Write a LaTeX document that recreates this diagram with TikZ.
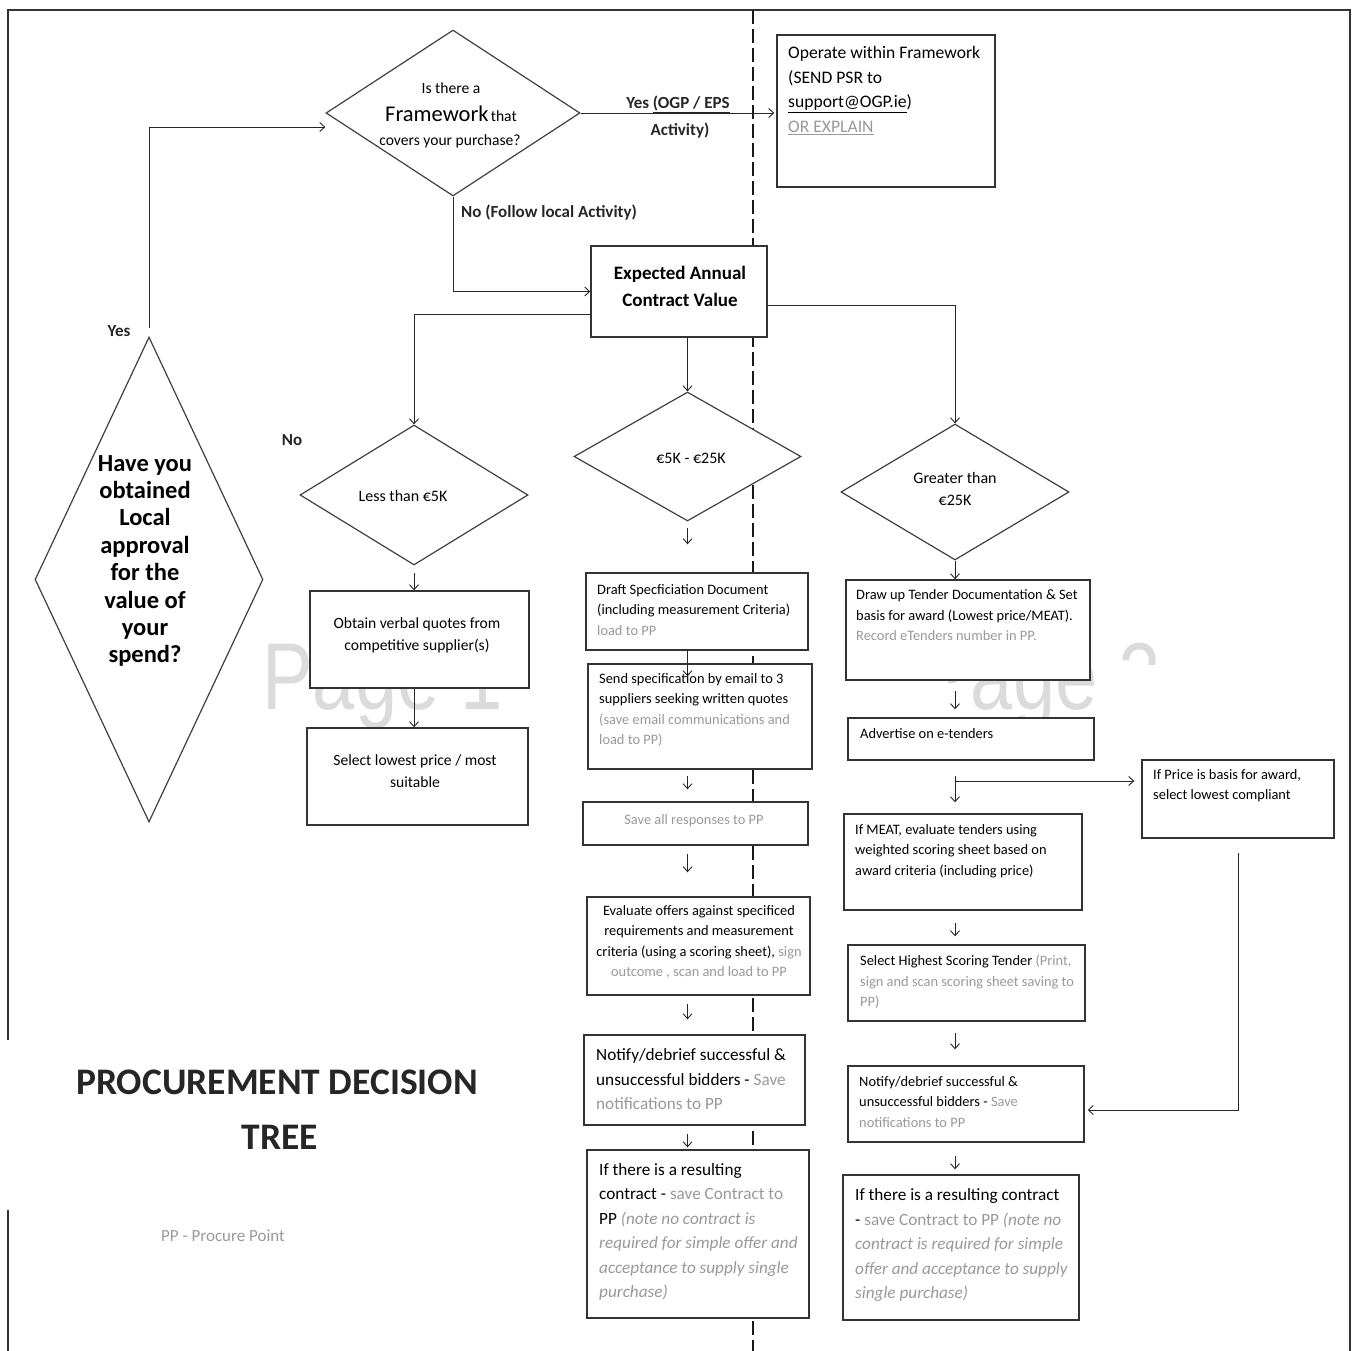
\documentclass[tikz,border=0pt]{standalone}
\usepackage{fontspec}
\setmainfont{Carlito}
\newfontfamily\wmfont{Liberation Sans}
\usetikzlibrary{shapes.geometric,arrows.meta}
\definecolor{fade}{gray}{0.6}
\definecolor{wmgray}{gray}{0.86}
\begin{document}
\begin{tikzpicture}[x=1pt,y=-1pt,
  box/.style={draw=black!80, line width=1.4pt, fill=white, inner sep=0pt},
  dia/.style={diamond, draw=black!75, line width=1.2pt, inner sep=0pt, fill=white},
  arr/.style={draw=black!85, line width=0.9pt, -{Straight Barb[length=5pt,width=9pt]}},
  frame/.style={draw=black!80, line width=1.3pt},
  sepline/.style={draw=black!90, line width=2pt, dash pattern=on 14pt off 5pt},
  tl/.style={inner sep=0pt, anchor=west, align=left},
  tc/.style={inner sep=0pt, align=center},
  fs13/.style={font=\fontsize{14.4}{20.5}\selectfont},
  fs14/.style={font=\fontsize{15.6}{22}\selectfont},
  fs15/.style={font=\fontsize{17.2}{24.5}\selectfont},
  fs16/.style={font=\fontsize{17.6}{24.5}\selectfont},
  lbl/.style={inner sep=0pt, align=center, font=\fontsize{17}{24}\selectfont\bfseries, text=black!85},
  wm/.style={inner sep=0pt, anchor=base west, text=wmgray, font=\wmfont\fontsize{95}{100}\selectfont}
]
\useasboundingbox (0,0) rectangle (1354,1351);

% watermarks
\node[wm] (wm1) at (262,709) {\scalebox{0.8}[1]{Page 1}};
\begin{scope}
  \clip (948,600) -- (1160,600) -- (1160,664) -- (1118,664) -- (1118,730) -- (948,730) -- cycle;
  \node[wm] (wm2) at (920,709) {\scalebox{0.8}[1]{Page 2}};
\end{scope}

% frame and separator
\draw[frame] (8,1040) -- (8,10) -- (1350,10) -- (1350,1351);
\draw[frame] (8,1210) -- (8,1351);
\draw[sepline] (753,10) -- (753,1351);

% diamonds
\node[dia, minimum width=254pt, minimum height=166pt] (d1) at (453,113) {};
\node[dia, minimum width=228pt, minimum height=140pt] (dl) at (414,495) {};
\node[dia, minimum width=227pt, minimum height=129pt] (d2) at (687.5,456.5) {};
\node[dia, minimum width=228pt, minimum height=136pt] (d3) at (955,492) {};
\node[dia, minimum width=228pt, minimum height=485pt] (dbig) at (149,579.5) {};

% boxes
\node[box, minimum width=218pt, minimum height=152pt] (op) at (886,111) {};
\node[box, minimum width=176pt, minimum height=91pt] (exp) at (679,291.5) {};
\node[box, minimum width=219pt, minimum height=97pt] (obtain) at (419.5,639.5) {};
\node[box, minimum width=221pt, minimum height=97pt] (select) at (417.5,776.5) {};
\node[box, minimum width=222pt, minimum height=77pt] (draft) at (697,611.5) {};
\node[box, minimum width=224pt, minimum height=105pt] (send) at (700,716.5) {};
\node[box, minimum width=225pt, minimum height=43pt] (save) at (695.5,823.5) {};
\node[box, minimum width=223pt, minimum height=98pt] (eval) at (698.5,946) {};
\node[box, minimum width=221pt, minimum height=90pt] (notify) at (694.5,1080) {};
\node[box, minimum width=222pt, minimum height=168pt] (ifa) at (698,1234) {};
\node[box, minimum width=244pt, minimum height=100pt] (draw) at (968,630) {};
\node[box, minimum width=246pt, minimum height=42pt] (adv) at (971,739) {};
\node[box, minimum width=192pt, minimum height=78pt] (price) at (1238,799) {};
\node[box, minimum width=238pt, minimum height=96pt] (meat) at (963,862) {};
\node[box, minimum width=237pt, minimum height=76pt] (selhi) at (966.5,983) {};
\node[box, minimum width=236pt, minimum height=76pt] (notify2) at (966,1104) {};
\node[box, minimum width=236pt, minimum height=145pt] (ifb) at (961,1247.5) {};

% connectors
\draw[arr, shorten >=2pt] (d1.east) -- (d1.east -| op.west);
\draw[arr] (d1.south) |- (exp.west);
\draw[arr] ([yshift=-22.5pt]exp.west) -| (dl.north);
\draw[arr] (exp.south -| d2.north) -- (d2.north);
\draw[arr] ([yshift=-13.5pt]exp.east) -| (d3.north);
\draw[arr, shorten <=8pt] (dbig.north) |- ([yshift=-14pt]d1.west);

\draw[arr, shorten <=7pt] (dl.south) -- (dl.south |- obtain.north);
\draw[arr] (obtain.south -| dl.south) -- (select.north -| dl.south);

\draw[arr, shorten <=6pt, shorten >=28pt] (d2.south) -- (d2.south |- draft.north);
\draw[arr, shorten >=-13pt] (draft.south -| d2.south) -- (send.north -| d2.south);
\draw[arr, shorten <=6pt, shorten >=12pt] (send.south -| d2.south) -- (save.north -| d2.south);
\draw[arr, shorten <=8pt, shorten >=24pt] (save.south -| d2.south) -- (eval.north -| d2.south);
\draw[arr, shorten <=8pt, shorten >=15pt] (eval.south -| d2.south) -- (notify.north -| d2.south);
\draw[arr, shorten <=8pt, shorten >=2pt] (notify.south -| d2.south) -- (ifa.north -| d2.south);

\coordinate (split) at (955,781);
\draw[arr] (d3.south) -- (d3.south |- draw.north);
\draw[arr, shorten <=10pt, shorten >=8pt] (draw.south -| split) -- (adv.north -| split);
\draw[arr, shorten <=15pt, shorten >=11pt] (adv.south -| split) -- (meat.north -| split);
\draw[arr, shorten >=7pt] (split) -- (split -| price.west);
\draw[arr, shorten <=12pt, shorten >=8pt] (meat.south -| split) -- (selhi.north -| split);
\draw[arr, shorten <=11pt, shorten >=16pt] (selhi.south -| split) -- (notify2.north -| split);
\draw[arr, shorten <=13pt, shorten >=5pt] (notify2.south -| split) -- (ifb.north -| split);
\draw[arr, shorten <=14pt, shorten >=3pt] (price.south) |- ([yshift=-6pt]notify2.east);

% connector labels
\node[lbl] (lyes1) at (678,104) {Yes \underline{(OGP / EPS}};
\node[lbl] (lyes2) at (680,131) {Activity)};
\node[lbl] (lno1) at (549,213) {No (Follow local Activity)};
\node[lbl] (lyes3) at (119,331) {Yes};
\node[lbl] (lno2) at (292,440) {No};

% diamond texts
\node[tc, font=\fontsize{15.6}{18}\selectfont] (d1a) at (451,88) {Is there a};
\node[tc] (d1b) at (451,114) {{\fontsize{22.5}{26}\selectfont Framework} {\fontsize{15.6}{18}\selectfont that}};
\node[tc, font=\fontsize{15.6}{18}\selectfont] (d1c) at (450,141) {covers your purchase?};
\node[tc, font=\fontsize{16}{22}\selectfont] (dlt) at (403,496) {Less than €5K};
\node[tc, font=\fontsize{16}{22}\selectfont] (d2t) at (691,458) {€5K - €25K};
\node[tc, font=\fontsize{16}{21.5}\selectfont] (d3t) at (955,489) {Greater than\\€25K};
\node[tc, font=\fontsize{24.5}{27.4}\selectfont\bfseries] (dbigt) at (145,561)
  {Have you\\obtained\\Local\\approval\\for the\\value of\\your\\spend?};

% box texts
\node[tl, fs16] (opt) at (788,90.5) {Operate within Framework\\(SEND PSR to\\\underline{support@OGP.ie})\\{\color{fade}\underline{OR EXPLAIN}}};
\node[tc, font=\fontsize{19}{27}\selectfont\bfseries] (expt) at (680,286) {Expected Annual\\Contract Value};
\node[tc, font=\fontsize{15.6}{22}\selectfont] (obtaint) at (417,635) {Obtain verbal quotes from\\competitive supplier(s)};
\node[tc, font=\fontsize{15.6}{22}\selectfont] (selectt) at (415,771.5) {Select lowest price / most\\suitable};

\node[tl, fs13] (draftt) at (597,610) {Draft Specficiation Document\\(including measurement Criteria)\\{\color{fade}load to PP}};
\node[tl, fs13] (sendt) at (599,710) {Send specification by email to 3\\suppliers seeking written quotes\\{\color{fade}(save email communications and}\\{\color{fade}load to PP)}};
\node[tc, fs13, text=fade] (savet) at (694,821) {Save all responses to PP};
\node[tc, fs13] (evalt) at (699,942) {Evaluate offers against specificed\\requirements and measurement\\criteria (using a scoring sheet), {\color{fade}sign}\\{\color{fade}outcome , scan and load to PP}};
\node[tl, fs15] (notifyt) at (596,1079.5) {Notify/debrief successful \&\\unsuccessful bidders - {\color{fade}Save}\\{\color{fade}notifications to PP}};
\node[tl, fs15] (ifat) at (599,1232) {If there is a resulting\\contract - {\color{fade}save Contract to}\\PP {\color{fade}\itshape (note no contract is}\\{\color{fade}\itshape required for simple offer and}\\{\color{fade}\itshape acceptance to supply single}\\{\color{fade}\itshape purchase)}};

\node[tl, fs13] (drawt) at (856,615.5) {Draw up Tender Documentation \& Set\\basis for award (Lowest price/MEAT).\\{\color{fade}Record eTenders number in PP.}};
\node[tl, fs13] (advt) at (860,734) {Advertise on e-tenders};
\node[tl, fs13] (pricet) at (1153,785.5) {If Price is basis for award,\\select lowest compliant};
\node[tl, fs13] (meatt) at (855,851) {If MEAT, evaluate tenders using\\weighted scoring sheet based on\\award criteria (including price)};
\node[tl, fs13] (selhit) at (860,982) {Select Highest Scoring Tender {\color{fade}(Print,}\\{\color{fade}sign and scan scoring sheet saving to}\\{\color{fade}PP)}};
\node[tl, fs13] (notify2t) at (859,1102) {Notify/debrief successful \&\\unsuccessful bidders - {\color{fade}Save}\\{\color{fade}notifications to PP}};
\node[tl, fs15] (ifbt) at (855,1245) {If there is a resulting contract\\- {\color{fade}save Contract to PP \itshape (note no}\\{\color{fade}\itshape contract is required for simple}\\{\color{fade}\itshape offer and acceptance to supply}\\{\color{fade}\itshape single purchase)}};

% title and legend
\node[tc, font=\fontsize{37.5}{44}\selectfont\bfseries, text=black!85] (title1) at (277,1082) {PROCUREMENT DECISION};
\node[tc, font=\fontsize{37.5}{44}\selectfont\bfseries, text=black!85] (title2) at (280,1137) {TREE};
\node[tc, font=\fontsize{17}{20}\selectfont, text=fade] (legend) at (223,1236) {PP - Procure Point};
\end{tikzpicture}
\end{document}
